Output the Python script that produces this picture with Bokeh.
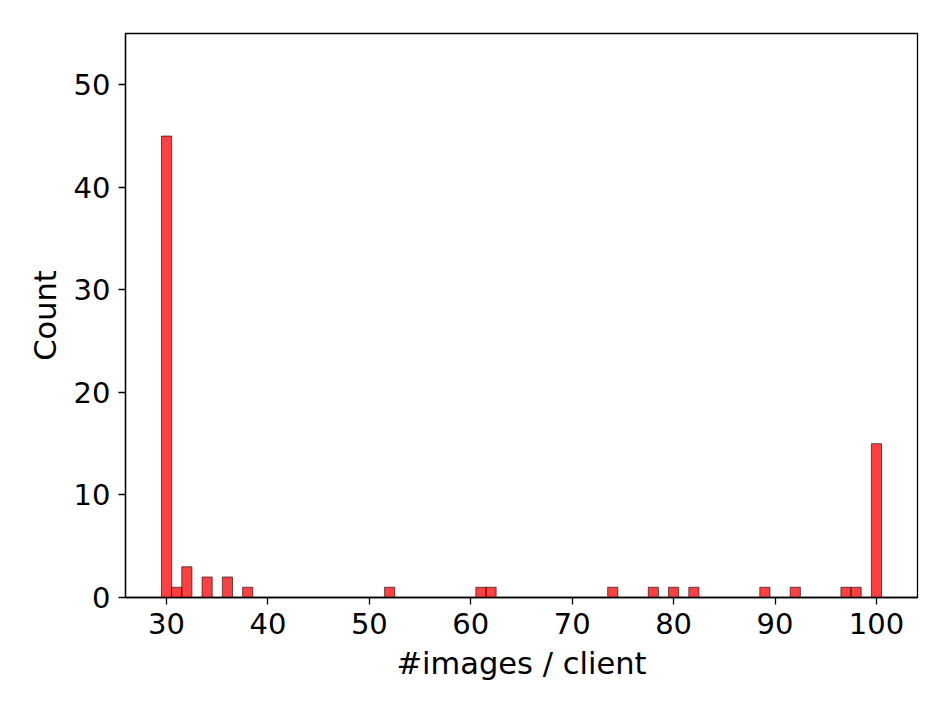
from bokeh.plotting import figure
from bokeh.models import FixedTicker, Range1d
from bokeh.embed import file_html
from bokeh.resources import INLINE

# data: #images per client (bin centres) and their counts
images_per_client = [30, 31, 32, 34, 36, 38, 52, 61, 62, 74, 78, 80, 82, 89, 92, 97, 98, 100]
counts = [45, 1, 3, 2, 2, 1, 1, 1, 1, 1, 1, 1, 1, 1, 1, 1, 1, 15]
x_ticks = [30, 40, 50, 60, 70, 80, 90, 100]
y_ticks = [0, 10, 20, 30, 40, 50]
bin_width = 1.0

FONT = "DejaVu Sans"

p = figure(width=935, height=697, output_backend="svg", toolbar_location=None,
           x_range=Range1d(25.95, 104.05), y_range=Range1d(0, 55),
           min_border_left=125, min_border_right=18, min_border_top=33,
           min_border_bottom=100)

left = [v - bin_width / 2 for v in images_per_client]
right = [v + bin_width / 2 for v in images_per_client]
p.quad(left=left, right=right, bottom=0, top=counts,
       fill_color="red", fill_alpha=0.75,
       line_color="black", line_alpha=0.6, line_width=1)

p.xgrid.visible = False
p.ygrid.visible = False
p.outline_line_color = "black"
p.outline_line_width = 1.3
p.outline_line_alpha = 1

p.xaxis.ticker = FixedTicker(ticks=x_ticks)
p.yaxis.ticker = FixedTicker(ticks=y_ticks)
p.xaxis.axis_label = "#images / client"
p.yaxis.axis_label = "Count"

for ax in (p.xaxis, p.yaxis):
    ax.axis_line_color = "black"
    ax.axis_line_width = 1.3
    ax.major_tick_line_color = "black"
    ax.major_tick_line_width = 1.3
    ax.major_tick_out = 7
    ax.major_tick_in = 0
    ax.minor_tick_line_color = None
    ax.major_label_text_font = FONT
    ax.major_label_text_font_size = "29px"
    ax.major_label_text_color = "black"
    ax.axis_label_text_font = FONT
    ax.axis_label_text_font_size = "30.5px"
    ax.axis_label_text_font_style = "normal"
    ax.axis_label_text_color = "black"
    ax.major_label_standoff = 8

p.xaxis.axis_label_standoff = 9
p.yaxis.axis_label_standoff = 8

open("out.html", "w").write(file_html(p, INLINE))
